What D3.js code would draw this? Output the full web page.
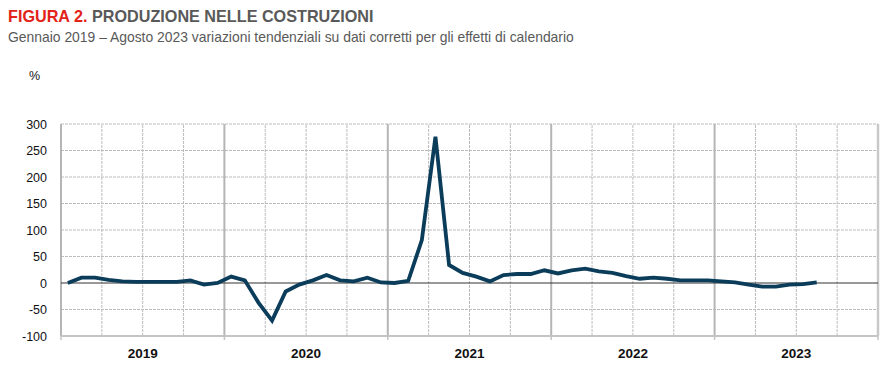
<!DOCTYPE html>
<html>
<head>
<meta charset="utf-8">
<script src="https://cdn.jsdelivr.net/npm/d3@7"></script>
<style>
  body { margin: 0; background: #fff; }
  svg { display: block; }
</style>
</head>
<body>
<div id="chart"></div>
<script>
// Monthly data, Jan 2019 - Aug 2023
const years = ['2019', '2020', '2021', '2022', '2023'];
const yTicks = [300, 250, 200, 150, 100, 50, 0, -50, -100];
const values = [
  0, 10, 10, 6, 3, 2, 2, 2, 2, 5, -3, 0,          // 2019
  12, 5, -37, -71, -16, -3, 5, 15, 5, 3, 10, 1,   // 2020
  0, 4, 81, 276, 34, 19, 12, 3, 15, 17, 17, 24,   // 2021
  18, 24, 27, 22, 19, 13, 8, 10, 8, 5, 5, 5,      // 2022
  3, 1, -3, -7, -7, -3, -2, 1                     // 2023
];

const width = 896, height = 387;
const margin = { left: 61, right: 18, top: 124, bottom: 51 };

const svg = d3.select('#chart').append('svg')
  .attr('width', width)
  .attr('height', height);

// Title
const title = svg.append('text')
  .attr('x', 8).attr('y', 22)
  .attr('font-family', '"Liberation Sans Narrow", "Arial Narrow", Arial, sans-serif')
  .attr('font-weight', 'bold')
  .attr('font-size', 16.2);
title.append('tspan').attr('fill', '#e2231a').text('FIGURA 2. ');
title.append('tspan').attr('fill', '#595959').text('PRODUZIONE NELLE COSTRUZIONI');

svg.append('text')
  .attr('x', 8).attr('y', 42)
  .attr('font-family', '"Liberation Sans Narrow", "Arial Narrow", Arial, sans-serif')
  .attr('font-size', 13.9)
  .attr('fill', '#595959')
  .text('Gennaio 2019 \u2013 Agosto 2023 variazioni tendenziali su dati corretti per gli effetti di calendario');

const x = d3.scaleLinear()
  .domain([0, years.length * 12])
  .range([margin.left, width - margin.right]);

const y = d3.scaleLinear()
  .domain([-100, 300])
  .range([height - margin.bottom, margin.top]);

const g = svg.append('g');

// horizontal dashed gridlines
g.selectAll('line.hgrid')
  .data(yTicks.filter(d => d !== 0 && d !== -100))
  .join('line')
  .attr('class', 'hgrid')
  .attr('x1', x(0)).attr('x2', x(60))
  .attr('y1', d => y(d)).attr('y2', d => y(d))
  .attr('stroke', '#bcbcbc')
  .attr('stroke-dasharray', '3,1');

// quarter dashed gridlines
const quarters = d3.range(1, 20).filter(q => q % 4 !== 0);
g.selectAll('line.qgrid')
  .data(quarters)
  .join('line')
  .attr('class', 'qgrid')
  .attr('x1', d => x(d * 3)).attr('x2', d => x(d * 3))
  .attr('y1', y(-100)).attr('y2', y(300))
  .attr('stroke', '#bcbcbc')
  .attr('stroke-dasharray', '3,1');

// year separators (solid)
g.selectAll('line.ygrid')
  .data(d3.range(1, years.length))
  .join('line')
  .attr('class', 'ygrid')
  .attr('x1', d => x(d * 12)).attr('x2', d => x(d * 12))
  .attr('y1', y(-100)).attr('y2', y(300))
  .attr('stroke', '#b5b5b5')
  .attr('stroke-width', 2);

// right border
g.append('line')
  .attr('x1', x(60)).attr('x2', x(60))
  .attr('y1', y(-100)).attr('y2', y(300))
  .attr('stroke', '#c8c8c8')
  .attr('stroke-width', 2.5);

// left axis
g.append('line')
  .attr('x1', x(0)).attr('x2', x(0))
  .attr('y1', y(-100)).attr('y2', y(300))
  .attr('stroke', '#b5b5b5')
  .attr('stroke-width', 2);

// bottom axis with year ticks
g.append('line')
  .attr('x1', x(0)).attr('x2', x(60))
  .attr('y1', y(-100)).attr('y2', y(-100))
  .attr('stroke', '#c4c4c4')
  .attr('stroke-width', 2);
g.selectAll('line.ytick')
  .data(d3.range(0, years.length + 1))
  .join('line')
  .attr('class', 'ytick')
  .attr('x1', d => x(d * 12)).attr('x2', d => x(d * 12))
  .attr('y1', y(-100)).attr('y2', y(-100) + 4)
  .attr('stroke', '#c4c4c4')
  .attr('stroke-width', 1.5);

// zero line
g.append('line')
  .attr('x1', x(0)).attr('x2', x(60))
  .attr('y1', y(0)).attr('y2', y(0))
  .attr('stroke', '#333')
  .attr('stroke-width', 1);

// y tick labels
svg.selectAll('text.ylab')
  .data(yTicks)
  .join('text')
  .attr('class', 'ylab')
  .attr('x', 47)
  .attr('y', d => y(d) + 4.5)
  .attr('text-anchor', 'end')
  .attr('font-family', 'Arial, "Liberation Sans", sans-serif')
  .attr('font-size', 12.5)
  .attr('fill', '#111')
  .text(d => d);

svg.append('text')
  .attr('x', 29).attr('y', 80)
  .attr('font-family', 'Arial, "Liberation Sans", sans-serif')
  .attr('font-size', 12.5)
  .attr('fill', '#111')
  .text('%');

// year labels
svg.selectAll('text.xlab')
  .data(years)
  .join('text')
  .attr('class', 'xlab')
  .attr('x', (d, i) => x(i * 12 + 6))
  .attr('y', 358)
  .attr('text-anchor', 'middle')
  .attr('font-family', 'Arial, "Liberation Sans", sans-serif')
  .attr('font-weight', 'bold')
  .attr('font-size', 13.5)
  .attr('fill', '#111')
  .text(d => d);

// data line
const line = d3.line()
  .x((d, i) => x(i + 0.5))
  .y(d => y(d));

svg.append('path')
  .datum(values)
  .attr('d', line)
  .attr('fill', 'none')
  .attr('stroke', '#0b3d5b')
  .attr('stroke-width', 3.8)
  .attr('stroke-linejoin', 'miter')
  .attr('stroke-linecap', 'butt');
</script>
</body>
</html>
